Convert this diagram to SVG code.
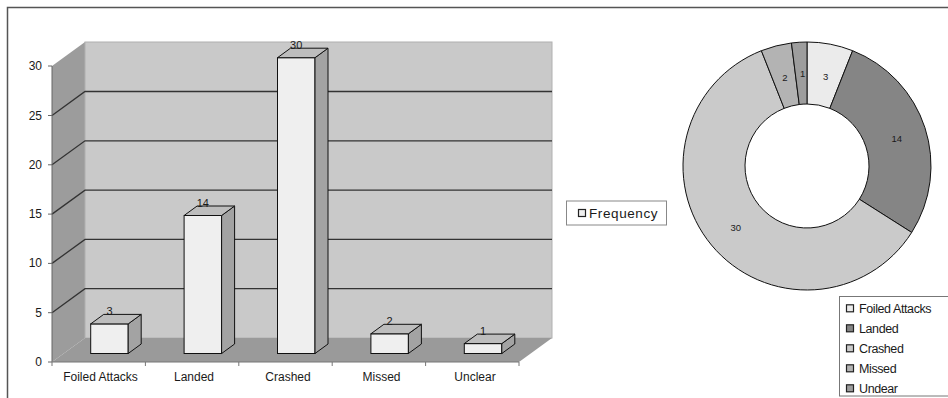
<svg xmlns="http://www.w3.org/2000/svg" width="948" height="398" viewBox="0 0 948 398">
<style>
text{font-family:"Liberation Sans",Arial,sans-serif;fill:#1a1a1a}
.ax{font-size:12px}
.val{font-size:11px;text-anchor:middle}
.grid{fill:none;stroke:#333;stroke-width:1.3}
.front{fill:#efefef;stroke:#111;stroke-width:1}
.top{fill:#bdbdbd;stroke:#111;stroke-width:1}
.side{fill:#a3a3a3;stroke:#111;stroke-width:1}
.slice{stroke:#111;stroke-width:1}
.pl{font-size:9.5px;text-anchor:middle}
.lg{font-size:12.5px;letter-spacing:-0.4px}
.sq{stroke:#222;stroke-width:1.2}
</style>
<rect x="0" y="0" width="948" height="398" fill="#fff"/>
<rect id="frame" x="7.5" y="7.5" width="960" height="400" fill="none" stroke="#555" stroke-width="1.5"/>

<g id="bar-chart">
  <polygon id="left-wall" points="52,66 85,42 85,338 52,362" fill="#9c9c9c"/>
  <rect id="back-wall" x="85" y="42" width="467" height="296" fill="#c9c9c9" stroke="#b0b0b0" stroke-width="1"/>
  <g id="gridlines">
    <polyline class="grid" points="52,312.7 85,288.7 552,288.7"/>
    <polyline class="grid" points="52,263.4 85,239.4 552,239.4"/>
    <polyline class="grid" points="52,214.1 85,190.1 552,190.1"/>
    <polyline class="grid" points="52,164.8 85,140.8 552,140.8"/>
    <polyline class="grid" points="52,115.5 85,91.5 552,91.5"/>
  </g>
  <polygon id="floor" points="52,362 85,338 552,338 519,362" fill="#9a9a9a"/>
  <g id="y-axis" stroke="#666" stroke-width="1">
    <line x1="52" y1="66" x2="52" y2="362"/>
    <line x1="48" y1="66" x2="52" y2="66"/>
    <line x1="48" y1="115.5" x2="52" y2="115.5"/>
    <line x1="48" y1="164.8" x2="52" y2="164.8"/>
    <line x1="48" y1="214.1" x2="52" y2="214.1"/>
    <line x1="48" y1="263.4" x2="52" y2="263.4"/>
    <line x1="48" y1="312.7" x2="52" y2="312.7"/>
    <line x1="48" y1="362" x2="52" y2="362"/>
  </g>
  <g id="y-labels" class="ax" text-anchor="end">
    <text x="42" y="70">30</text>
    <text x="42" y="119.5">25</text>
    <text x="42" y="168.8">20</text>
    <text x="42" y="218.1">15</text>
    <text x="42" y="267.4">10</text>
    <text x="42" y="316.7">5</text>
    <text x="42" y="366">0</text>
  </g>
  <g id="x-axis" stroke="#777" stroke-width="1">
    <line x1="52" y1="362" x2="519" y2="362"/>
    <line x1="52" y1="362" x2="52" y2="366"/>
    <line x1="145.4" y1="362" x2="145.4" y2="366"/>
    <line x1="238.8" y1="362" x2="238.8" y2="366"/>
    <line x1="332.2" y1="362" x2="332.2" y2="366"/>
    <line x1="425.6" y1="362" x2="425.6" y2="366"/>
    <line x1="519" y1="362" x2="519" y2="366"/>
  </g>
  <g id="x-labels" class="ax" text-anchor="middle">
    <text x="100.5" y="381">Foiled Attacks</text>
    <text x="194" y="381">Landed</text>
    <text x="288" y="381">Crashed</text>
    <text x="381.5" y="381">Missed</text>
    <text x="475" y="381">Unclear</text>
  </g>

  <g id="bar-foiled">
    <rect class="front" x="90.7" y="323.9" width="37.5" height="29.6"/>
    <polygon class="side" points="128.2,323.9 141.2,314.4 141.2,344 128.2,353.5"/>
    <polygon class="top" points="90.7,323.9 103.7,314.4 141.2,314.4 128.2,323.9"/>
    <text class="val" x="109.5" y="315.4">3</text>
  </g>
  <g id="bar-landed">
    <rect class="front" x="184.1" y="215.5" width="37.5" height="138"/>
    <polygon class="side" points="221.6,215.5 234.6,206 234.6,344 221.6,353.5"/>
    <polygon class="top" points="184.1,215.5 197.1,206 234.6,206 221.6,215.5"/>
    <text class="val" x="202.8" y="207">14</text>
  </g>
  <g id="bar-crashed">
    <rect class="front" x="277.5" y="57.7" width="37.5" height="295.8"/>
    <polygon class="side" points="315,57.7 328,48.2 328,344 315,353.5"/>
    <polygon class="top" points="277.5,57.7 290.5,48.2 328,48.2 315,57.7"/>
    <text class="val" x="296.2" y="49.2">30</text>
  </g>
  <g id="bar-missed">
    <rect class="front" x="370.9" y="333.8" width="37.5" height="19.7"/>
    <polygon class="side" points="408.4,333.8 421.4,324.3 421.4,344 408.4,353.5"/>
    <polygon class="top" points="370.9,333.8 383.9,324.3 421.4,324.3 408.4,333.8"/>
    <text class="val" x="389.6" y="325.3">2</text>
  </g>
  <g id="bar-unclear">
    <rect class="front" x="464.3" y="343.6" width="37.5" height="9.9"/>
    <polygon class="side" points="501.8,343.6 514.8,334.1 514.8,344 501.8,353.5"/>
    <polygon class="top" points="464.3,343.6 477.3,334.1 514.8,334.1 501.8,343.6"/>
    <text class="val" x="483" y="335.1">1</text>
  </g>
</g>

<g id="legend-frequency">
  <rect x="566.5" y="201" width="100" height="24" fill="#fff" stroke="#888" stroke-width="1"/>
  <rect class="sq" x="578.5" y="209.5" width="7" height="7" fill="#efefef"/>
  <text x="589" y="218" font-size="13.5" letter-spacing="0.6">Frequency</text>
</g>

<g id="donut-chart">
  <path id="slice-foiled" class="slice" fill="#ebebeb" d="M807,42 A124,124 0 0 1 852.64,50.70 L829.82,108.35 A62,62 0 0 0 807,104 Z"/>
  <path id="slice-landed" class="slice" fill="#858585" d="M852.64,50.70 A124,124 0 0 1 911.69,232.44 L859.35,199.22 A62,62 0 0 0 829.82,108.35 Z"/>
  <path id="slice-crashed" class="slice" fill="#cacaca" d="M911.69,232.44 A124,124 0 1 1 761.36,50.70 L784.18,108.35 A62,62 0 1 0 859.35,199.22 Z"/>
  <path id="slice-missed" class="slice" fill="#b3b3b3" d="M761.36,50.70 A124,124 0 0 1 791.46,42.98 L799.23,104.49 A62,62 0 0 0 784.18,108.35 Z"/>
  <path id="slice-unclear" class="slice" fill="#9d9d9d" d="M791.46,42.98 A124,124 0 0 1 807,42 L807,104 A62,62 0 0 0 799.23,104.49 Z"/>
  <text class="pl" x="825.7" y="79.5">3</text>
  <text class="pl" x="896.7" y="141.5">14</text>
  <text class="pl" x="735.7" y="230.5">30</text>
  <text class="pl" x="785" y="80.5">2</text>
  <text class="pl" x="802.7" y="77">1</text>
</g>

<g id="legend-donut">
  <rect x="839.5" y="296.5" width="120" height="99.5" fill="#fff" stroke="#777" stroke-width="1"/>
  <rect class="sq" x="846.5" y="304.8" width="7" height="7" fill="#ebebeb"/>
  <rect class="sq" x="846.5" y="324.8" width="7" height="7" fill="#858585"/>
  <rect class="sq" x="846.5" y="344.8" width="7" height="7" fill="#cacaca"/>
  <rect class="sq" x="846.5" y="364.8" width="7" height="7" fill="#b3b3b3"/>
  <rect class="sq" x="846.5" y="384.8" width="7" height="7" fill="#9d9d9d"/>
  <text class="lg" x="859" y="312.8">Foiled Attacks</text>
  <text class="lg" x="859" y="332.8">Landed</text>
  <text class="lg" x="859" y="352.8">Crashed</text>
  <text class="lg" x="859" y="372.8">Missed</text>
  <text class="lg" x="859" y="392.8">Undear</text>
</g>
</svg>
